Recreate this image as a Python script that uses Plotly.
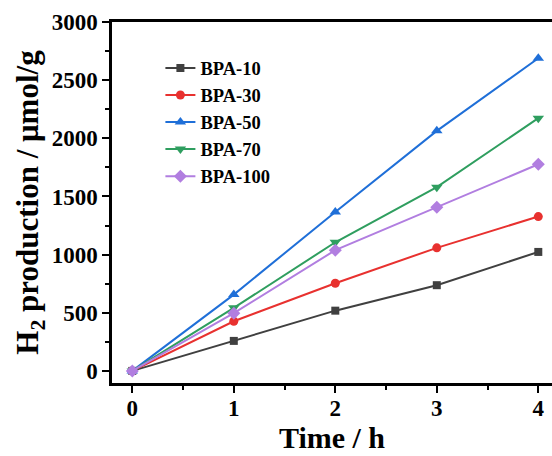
import plotly.graph_objects as go

time_h = [0, 1, 2, 3, 4]
bpa10 = [0, 258, 518, 737, 1023]
bpa30 = [0, 427, 754, 1058, 1327]
bpa50 = [0, 656, 1367, 2064, 2688]
bpa70 = [0, 542, 1106, 1580, 2173]
bpa100 = [0, 496, 1038, 1407, 1777]

x_ticks = [0, 1, 2, 3, 4]
y_ticks = [0, 500, 1000, 1500, 2000, 2500, 3000]

series = [
    ("BPA-10", bpa10, "#404040", "square", 8),
    ("BPA-30", bpa30, "#e8312f", "circle", 9),
    ("BPA-50", bpa50, "#1f6fd8", "triangle-up", 10),
    ("BPA-70", bpa70, "#2f9e5f", "triangle-down", 10),
    ("BPA-100", bpa100, "#b17ee0", "diamond", 10),
]

fig = go.Figure()
for name, vals, color, sym, sz in series:
    fig.add_trace(go.Scatter(
        x=time_h, y=vals, name=name, mode="lines+markers",
        line=dict(color=color, width=2),
        marker=dict(symbol=sym, size=sz, color=color),
    ))

font_family = "Liberation Serif, Times New Roman, serif"
fig.update_layout(
    width=552, height=456,
    margin=dict(l=112, r=0, t=22, b=73),
    plot_bgcolor="white", paper_bgcolor="white",
    showlegend=True,
    legend=dict(x=0.11, y=0.924, xanchor="left", yanchor="top",
                bgcolor="rgba(0,0,0,0)", tracegroupgap=0,
                font=dict(family=font_family, size=18.5, color="black", weight="bold")),
    font=dict(family=font_family, color="black"),
)
fig.update_xaxes(
    range=[-0.2, 4.135], tickvals=x_ticks, ticktext=[f"<b>{v}</b>" for v in x_ticks],
    ticks="outside", ticklen=7, tickwidth=2, tickcolor="black",
    ticklabelstandoff=-4,
    minor=dict(tickvals=[0.5, 1.5, 2.5, 3.5], ticks="outside", ticklen=4, tickwidth=2, tickcolor="black"),
    showline=True, linewidth=2.5, linecolor="black", mirror=True,
    showgrid=False, zeroline=False,
    tickfont=dict(family=font_family, size=23, color="black"),
    title=dict(text="<b>Time / h</b>", font=dict(family=font_family, size=30, color="black"), standoff=6),
)
fig.update_yaxes(
    range=[-104, 3000], tickvals=y_ticks, ticktext=[f"<b>{v}</b>" for v in y_ticks],
    ticks="outside", ticklen=7, tickwidth=2, tickcolor="black",
    minor=dict(tickvals=[250, 750, 1250, 1750, 2250, 2750], ticks="outside", ticklen=4, tickwidth=2, tickcolor="black"),
    showline=True, linewidth=2.5, linecolor="black", mirror=False,
    showgrid=False, zeroline=False,
    tickfont=dict(family=font_family, size=23, color="black"),
    title=dict(text="<b>H<sub>2</sub> production / μmol/g</b>", font=dict(family=font_family, size=31, color="black"), standoff=4),
)
fig.write_html("out.html")
